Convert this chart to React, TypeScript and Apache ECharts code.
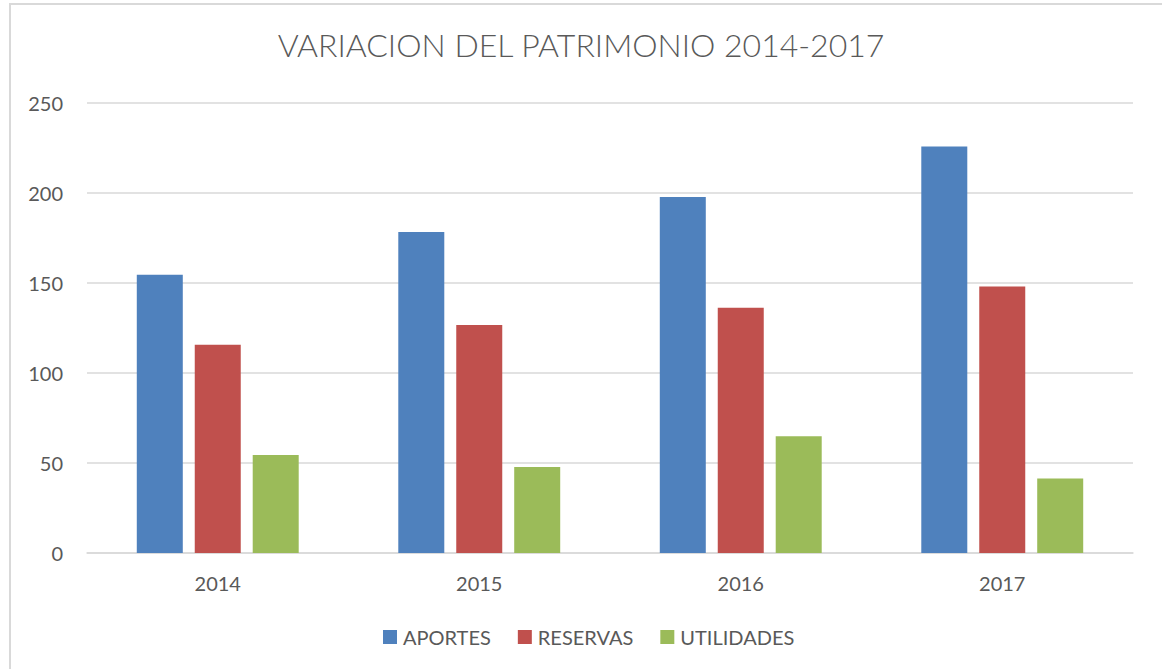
import React, { useEffect, useRef } from "react";
import * as echarts from "echarts";

const categories = ["2014", "2015", "2016", "2017"];
const aportes = [154.6, 178.3, 197.8, 225.9];
const reservas = [115.7, 126.7, 136.3, 148.1];
const utilidades = [54.4, 47.8, 64.8, 41.4];
const seriesNames = ["APORTES", "RESERVAS", "UTILIDADES"];
const colors = ["#4f81bd", "#c0504d", "#9bbb59"];
const titleText = "VARIACION DEL PATRIMONIO 2014-2017";

const FONT = "Lato, 'Liberation Sans', sans-serif";

export default function App() {
  const ref = useRef<HTMLDivElement>(null);
  useEffect(() => {
    if (!ref.current) return;
    const chart = echarts.init(ref.current, undefined, { renderer: "svg" });
    const values = [aportes, reservas, utilidades];
    chart.setOption({
      animation: false,
      backgroundColor: "#ffffff",
      color: colors,
      title: {
        text: titleText,
        left: "center",
        top: 28,
        padding: 0,
        textStyle: {
          fontFamily: FONT,
          fontSize: 32,
          fontWeight: 300,
          color: "#595959",
        },
      },
      legend: {
        bottom: 22,
        left: 383,
        padding: 0,
        itemWidth: 14,
        itemHeight: 14,
        itemGap: 27,
        icon: "rect",
        textStyle: { fontFamily: FONT, fontSize: 20, color: "#595959", padding: [0, 0, 0, 1] },
        data: seriesNames,
      },
      grid: { left: 87, right: 29, top: 103, bottom: 116, containLabel: false },
      xAxis: {
        type: "category",
        data: categories,
        axisLine: { show: true, lineStyle: { color: "#d9d9d9", width: 1.5 } },
        axisTick: { show: false },
        axisLabel: { fontFamily: FONT, fontSize: 20, color: "#595959", margin: 20 },
      },
      yAxis: {
        type: "value",
        min: 0,
        max: 250,
        interval: 50,
        axisLine: { show: false },
        axisTick: { show: false },
        splitLine: { lineStyle: { color: "#d9d9d9", width: 1.5 } },
        axisLabel: { fontFamily: FONT, fontSize: 20, color: "#595959", margin: 24 },
      },
      series: seriesNames.map((name, i) => ({
        name,
        type: "bar",
        data: values[i],
        barWidth: 46,
        barGap: "26%",
        itemStyle: { color: colors[i] },
      })),
      graphic: [
        {
          type: "rect",
          shape: { x: 10, y: 4, width: 1160, height: 700 },
          style: { fill: "none", stroke: "#d9d9d9", lineWidth: 2 },
          silent: true,
        },
      ],
    });
    return () => chart.dispose();
  }, []);
  return (
    <div
      ref={ref}
      style={{ position: "absolute", left: 0, top: 0, width: 1162, height: 669 }}
    />
  );
}
